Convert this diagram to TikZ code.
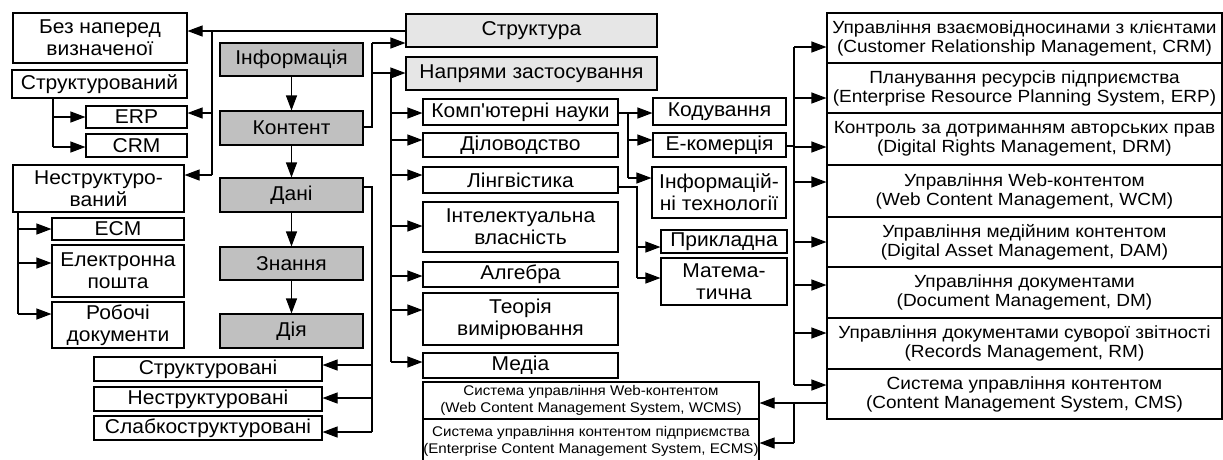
\documentclass[tikz,border=0pt]{standalone}
\usepackage{fontspec}
\setmainfont{Liberation Sans}[FakeStretch=1.05]
\newfontfamily\widefont{Liberation Sans}[FakeStretch=1.08]
\usetikzlibrary{arrows.meta}
\definecolor{gdark}{HTML}{C0C0C0}
\definecolor{glight}{HTML}{E6E6E6}
\tikzset{
  bx/.style={draw, line width=1.1pt, inner sep=0pt, align=center, fill=white,
    font=\fontsize{20}{22}\selectfont},
  gbx/.style={bx, fill=gdark},
  lbx/.style={bx, fill=glight},
  rbx/.style={bx, font=\widefont\fontsize{17.6}{19}\selectfont},
  sbx/.style={bx, font=\widefont\fontsize{14}{17}\selectfont},
  ln/.style={line width=1.1pt},
  arr/.style={ln, -{Triangle[length=15pt,width=11pt]}},
}
\newcommand\bbox[7][bx]{%
  \pgfmathsetmacro\bxcx{(#3+#5)/2}\pgfmathsetmacro\bxcy{(#4+#6)/2}%
  \pgfmathsetmacro\bxw{#5-#3}\pgfmathsetmacro\bxh{#6-#4}%
  \node[#1, minimum width=\bxw pt, minimum height=\bxh pt] (#2) at (\bxcx,\bxcy) {#7};}
\begin{document}
\begin{tikzpicture}[x=1pt,y=-1pt]
\useasboundingbox (0,0) rectangle (1223,459);
% left column
\bbox{bez}{13}{13}{187}{63}{Без наперед\\визначеної}
\bbox{str}{12}{70}{187}{98}{Структурований}
\bbox{erp}{86}{106}{187}{128}{ERP}
\bbox{crm}{86}{134}{187}{157}{CRM}
\bbox{nestr}{13}{165}{184}{212}{Неструктуро-\\ваний}
\bbox{ecm}{52}{218}{184}{240}{ECM}
\bbox{email}{52}{245}{184}{297}{Електронна\\пошта}
\bbox{rob}{52}{302}{184}{348}{Робочі\\документи}
% gray chain
\bbox[gbx]{inf}{220}{43}{363}{76}{Інформація}
\bbox[gbx]{kont}{220}{111}{363}{145}{Контент}
\bbox[gbx]{dani}{220}{178}{363}{212}{Дані}
\bbox[gbx]{znan}{220}{247}{363}{280}{Знання}
\bbox[gbx]{diya}{220}{314}{363}{348}{Дія}
% bottom left
\bbox{s1}{94}{357}{322}{381}{Структуровані}
\bbox{s2}{94}{387}{322}{411}{Неструктуровані}
\bbox{s3}{94}{416}{322}{440}{Слабкоструктуровані}
% middle
\bbox[lbx]{struk}{406}{14}{657}{47}{Структура}
\bbox[lbx]{napr}{406}{57}{657}{90}{Напрями застосування}
\bbox{komp}{423}{99}{618}{125}{Комп\textquotesingle ютерні науки}
\bbox{dilo}{423}{133}{618}{157}{Діловодство}
\bbox{ling}{423}{167}{618}{193}{Лінгвістика}
\bbox{intel}{423}{202}{618}{252}{Інтелектуальна\\власність}
\bbox{alg}{423}{262}{618}{287}{Алгебра}
\bbox{teor}{423}{293}{618}{345}{Теорія\\вимірювання}
\bbox{media}{423}{353}{618}{378}{Медіа}
\bbox{kod}{653}{98}{786}{125}{Кодування}
\bbox{ecom}{653}{133}{786}{157}{Е-комерція}
\bbox{it}{652}{167}{786}{218}{Інформацій-\\ні технології}
\bbox{prykl}{661}{230}{787}{253}{Прикладна}
\bbox{mat}{661}{258}{787}{305}{Матема-\\тична}
% bottom middle
\bbox[sbx]{wcms}{423}{382}{759}{419}{Система управління Web-контентом\\(Web Content Management System, WCMS)}
\bbox[sbx]{ecms}{423}{419}{759}{463}{Система управління контентом підприємства\\(Enterprise Content Management System, ECMS)}
% right column
\bbox[rbx]{rcrm}{827}{13}{1222}{63}{Управління взаємовідносинами з клієнтами\\(Customer Relationship Management, CRM)}
\bbox[rbx]{rerp}{827}{63}{1222}{113}{Планування ресурсів підприємства\\(Enterprise Resource Planning System, ERP)}
\bbox[rbx]{rdrm}{827}{113}{1222}{165}{Контроль за дотриманням авторських прав\\(Digital Rights Management, DRM)}
\bbox[rbx]{rwcm}{827}{165}{1222}{217}{Управління Web-контентом\\(Web Content Management, WCM)}
\bbox[rbx]{rdam}{827}{217}{1222}{267}{Управління медійним контентом\\(Digital Asset Management, DAM)}
\bbox[rbx]{rdm}{827}{267}{1222}{318}{Управління документами\\(Document Management, DM)}
\bbox[rbx]{rrm}{827}{318}{1222}{369}{Управління документами суворої звітності\\(Records Management, RM)}
\bbox[rbx]{rcms}{827}{369}{1222}{419}{Система управління контентом\\(Content Management System, CMS)}

% ---- connectors ----
% Структура -> left groups
\coordinate (L1) at (212,31);
\coordinate (L2) at (212,113);
\coordinate (L3) at (212,175);
\draw[ln] (struk.west |- L1) -- (L1) -- (L3);
\draw[arr] (L1) -- (L1 -| bez.east);
\draw[arr] (L2) -- (L2 -| erp.east);
\draw[arr] (L3) -- (L3 -| nestr.east);
% Структурований
\coordinate (S1) at (53,117);
\coordinate (S2) at (53,147);
\draw[ln] (str.south -| S1) -- (S2);
\draw[arr] (S1) -- (S1 -| erp.west);
\draw[arr] (S2) -- (S2 -| crm.west);
% Неструктурований
\coordinate (N1) at (18,229);
\coordinate (N2) at (18,263);
\coordinate (N3) at (18,314);
\draw[ln] (nestr.south -| N1) -- (N3);
\draw[arr] (N1) -- (N1 -| ecm.west);
\draw[arr] (N2) -- (N2 -| email.west);
\draw[arr] (N3) -- (N3 -| rob.west);
% gray chain
\draw[arr] (inf) -- (kont);
\draw[arr] (kont) -- (dani);
\draw[arr] (dani) -- (znan);
\draw[arr] (znan) -- (diya);
% Контент -> Структура, Напрями
\coordinate (K0) at (372,127);
\coordinate (K1) at (372,43);
\coordinate (K2) at (372,73);
\draw[ln] (kont.east |- K0) -- (K0) -- (K1);
\draw[arr] (K1) -- (K1 -| struk.west);
\draw[arr] (K2) -- (K2 -| napr.west);
% Напрями children
\coordinate (P0) at (391,73);
\coordinate (P1) at (391,113);
\coordinate (P2) at (391,140);
\coordinate (P3) at (391,175);
\coordinate (P4) at (391,226);
\coordinate (P5) at (391,276);
\coordinate (P6) at (391,310);
\coordinate (P7) at (391,362);
\draw[ln] (P0) -- (P7);
\draw[arr] (P1) -- (P1 -| komp.west);
\draw[arr] (P2) -- (P2 -| dilo.west);
\draw[arr] (P3) -- (P3 -| ling.west);
\draw[arr] (P4) -- (P4 -| intel.west);
\draw[arr] (P5) -- (P5 -| alg.west);
\draw[arr] (P6) -- (P6 -| teor.west);
\draw[arr] (P7) -- (P7 -| media.west);
% Дані -> bottom left
\coordinate (D0) at (372,187);
\coordinate (D1) at (372,365);
\coordinate (D2) at (372,398);
\coordinate (D3) at (372,432);
\draw[ln] (dani.east |- D0) -- (D0) -- (D3);
\draw[arr] (D1) -- (D1 -| s1.east);
\draw[arr] (D2) -- (D2 -| s2.east);
\draw[arr] (D3) -- (D3 -| s3.east);
% Комп'ютерні науки
\coordinate (C0) at (628,113);
\coordinate (C1) at (628,140);
\coordinate (C2) at (628,178);
\draw[arr] (komp.east |- C0) -- (C0 -| kod.west);
\draw[ln] (C0) -- (C2);
\draw[arr] (C1) -- (C1 -| ecom.west);
\draw[arr] (C2) -- (C2 -| it.west);
% Лінгвістика
\coordinate (G0) at (637,187);
\coordinate (G1) at (637,247);
\coordinate (G2) at (637,278);
\draw[ln] (ling.east |- G0) -- (G0) -- (G2);
\draw[arr] (G1) -- (G1 -| prykl.west);
\draw[arr] (G2) -- (G2 -| mat.west);
% right column
\coordinate (E0) at (794,146);
\coordinate (R0) at (794,47);
\coordinate (R1) at (794,98);
\coordinate (R2) at (794,147);
\coordinate (R3) at (794,182);
\coordinate (R4) at (794,242);
\coordinate (R5) at (794,285);
\coordinate (R6) at (794,333);
\coordinate (R7) at (794,385);
\draw[ln] (ecom.east |- E0) -- (E0);
\draw[ln] (R0) -- (R7);
\draw[arr] (R0) -- (R0 -| rcrm.west);
\draw[arr] (R1) -- (R1 -| rerp.west);
\draw[arr] (R2) -- (R2 -| rdrm.west);
\draw[arr] (R3) -- (R3 -| rwcm.west);
\draw[arr] (R4) -- (R4 -| rdam.west);
\draw[arr] (R5) -- (R5 -| rdm.west);
\draw[arr] (R6) -- (R6 -| rrm.west);
\draw[arr] (R7) -- (R7 -| rcms.west);
% CMS -> WCMS, ECMS
\coordinate (W0) at (794,403);
\coordinate (W1) at (794,443);
\draw[ln] (rcms.west |- W0) -- (W0) -- (W1);
\draw[arr] (W0) -- (W0 -| wcms.east);
\draw[arr] (W1) -- (W1 -| ecms.east);
\end{tikzpicture}
\end{document}
